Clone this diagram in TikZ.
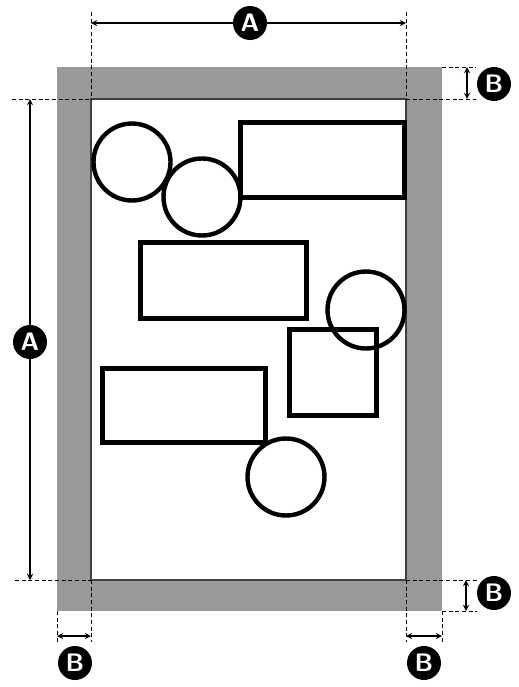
\documentclass[tikz,border=0pt]{standalone}
\usepackage{tikz}
\usetikzlibrary{arrows}
\tikzstyle{disc} = [circle, draw=black, line width=2.5pt, minimum size=1.54cm, inner sep=0pt]
\tikzstyle{boxes} = [rectangle, draw=black, line width=2.5pt, inner sep=0pt]
\tikzstyle{tag} = [circle, fill=black, text=white, font=\sffamily\bfseries\Large, inner sep=0pt, minimum size=0.68cm]
\tikzstyle{dim} = [<->, >=stealth, line width=0.6pt]
\tikzstyle{guide} = [line width=0.5pt, dash pattern=on 2.2pt off 1.6pt]

\begin{document}
\begin{tikzpicture}[x=0.02cm, y=-0.02cm]
        \useasboundingbox (0,0) rectangle (518,687);

        % sheet with its margin
        \fill[black!40] (57,67) rectangle (442,611);
        \fill[white] (91,99) rectangle (406,580);
        \draw[black!75, line width=0.6pt] (91,99) rectangle (406,580);

        \coordinate (tl) at (91,99);
        \coordinate (tr) at (406,99);
        \coordinate (bl) at (91,580);
        \coordinate (br) at (406,580);
        \coordinate (otr) at (442,67);
        \coordinate (obr) at (442,611);
        \coordinate (obl) at (57,611);

        % parts on the sheet
        \node[disc] (ring1) at (132,162) {};
        \node[disc] (ring2) at (202,197) {};
        \node[disc] (ring3) at (366,310) {};
        \node[disc] (ring4) at (286,477) {};
        \node[boxes, minimum width=3.28cm, minimum height=1.5cm] (plate1) at (322.5,160) {};
        \node[boxes, minimum width=3.32cm, minimum height=1.52cm] (plate2) at (223.5,280.5) {};
        \node[boxes, minimum width=1.74cm, minimum height=1.72cm] (plate3) at (333,372.5) {};
        \node[boxes, minimum width=3.26cm, minimum height=1.48cm] (plate4) at (184,405.5) {};

        % guides
        \coordinate (gtl) at (91,12);
        \coordinate (gtr) at (406,12);
        \coordinate (glt) at (12,99);
        \coordinate (glb) at (15,580);
        \coordinate (grt1) at (476,67);
        \coordinate (grt2) at (476,99);
        \coordinate (grb1) at (477,580);
        \coordinate (grb2) at (477,611);
        \coordinate (gbl1) at (57,642);
        \coordinate (gbl2) at (91,642);
        \coordinate (gbr1) at (406,642);
        \coordinate (gbr2) at (442,642);

        \draw[guide] (gtl) -- (tl);
        \draw[guide] (gtr) -- (tr);
        \draw[guide] (glt) -- (tl);
        \draw[guide] (glb) -- (bl);
        \draw[guide] (otr) -- (grt1);
        \draw[guide] (tr) -- (grt2);
        \draw[guide] (br) -- (grb1);
        \draw[guide] (obr) -- (grb2);
        \draw[guide] (obl) -- (gbl1);
        \draw[guide] (bl) -- (gbl2);
        \draw[guide] (br) -- (gbr1);
        \draw[guide] (obr) -- (gbr2);

        % dimensions
        \coordinate (dtop1) at (91,23);
        \coordinate (dtop2) at (406,23);
        \coordinate (dleft1) at (30,99);
        \coordinate (dleft2) at (30,580);
        \coordinate (drt1) at (467,67);
        \coordinate (drt2) at (467,99);
        \coordinate (drb1) at (466,580);
        \coordinate (drb2) at (466,611);
        \coordinate (dbl1) at (57,636);
        \coordinate (dbl2) at (91,636);
        \coordinate (dbr1) at (406,636);
        \coordinate (dbr2) at (442,636);

        \draw[dim] (dtop1) -- (dtop2);
        \draw[dim] (dleft1) -- (dleft2);
        \draw[dim] (drt1) -- (drt2);
        \draw[dim] (drb1) -- (drb2);
        \draw[dim] (dbl1) -- (dbl2);
        \draw[dim] (dbr1) -- (dbr2);

        \node[tag] (widthA) at (250,23) {A};
        \node[tag] (heightA) at (30,342) {A};
        \node[tag] (topB) at (494,84) {B};
        \node[tag] (bottomB) at (494,593) {B};
        \node[tag] (leftB) at (75,663) {B};
        \node[tag] (rightB) at (424,663) {B};

    \end{tikzpicture}
\end{document}
